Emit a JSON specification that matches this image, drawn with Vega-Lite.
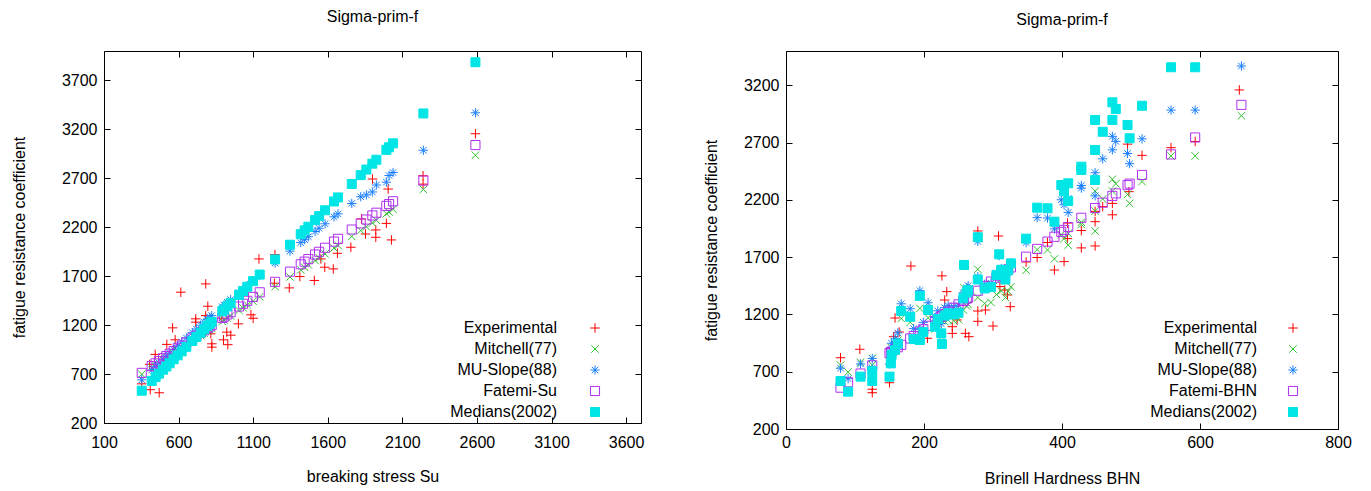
{
"$schema": "https://vega.github.io/schema/vega-lite/v6.json",
"background": "white",
"padding": {"left": 10, "top": 8, "right": 5, "bottom": 5},
"spacing": 57,
"datasets": {
"su": [
{"series":"Experimental","x":353,"y":600},{"series":"Experimental","x":410,"y":540},{"series":"Experimental","x":470,"y":509},{"series":"Experimental","x":406,"y":799},{"series":"Experimental","x":443,"y":901},{"series":"Experimental","x":521,"y":1003},{"series":"Experimental","x":577,"y":1050},{"series":"Experimental","x":560,"y":1172},{"series":"Experimental","x":615,"y":1536},{"series":"Experimental","x":782,"y":1621},{"series":"Experimental","x":796,"y":1393},{"series":"Experimental","x":715,"y":1264},{"series":"Experimental","x":715,"y":1230},{"series":"Experimental","x":782,"y":1297},{"series":"Experimental","x":816,"y":1111},{"series":"Experimental","x":823,"y":1009},{"series":"Experimental","x":823,"y":975},{"series":"Experimental","x":890,"y":1271},{"series":"Experimental","x":901,"y":1050},{"series":"Experimental","x":930,"y":1000},{"series":"Experimental","x":923,"y":1128},{"series":"Experimental","x":950,"y":1097},{"series":"Experimental","x":1001,"y":1213},{"series":"Experimental","x":1085,"y":1305},{"series":"Experimental","x":1100,"y":1270},{"series":"Experimental","x":1139,"y":1876},{"series":"Experimental","x":1246,"y":1921},{"series":"Experimental","x":1242,"y":1628},{"series":"Experimental","x":1342,"y":1580},{"series":"Experimental","x":1413,"y":1696},{"series":"Experimental","x":1510,"y":1656},{"series":"Experimental","x":1554,"y":1876},{"series":"Experimental","x":1580,"y":1791},{"series":"Experimental","x":1637,"y":1774},{"series":"Experimental","x":1665,"y":1934},{"series":"Experimental","x":1755,"y":1995},{"series":"Experimental","x":1826,"y":2284},{"series":"Experimental","x":1853,"y":2131},{"series":"Experimental","x":1922,"y":2172},{"series":"Experimental","x":1922,"y":2097},{"series":"Experimental","x":1900,"y":2692},{"series":"Experimental","x":1993,"y":2239},{"series":"Experimental","x":2005,"y":2590},{"series":"Experimental","x":2027,"y":2070},{"series":"Experimental","x":2239,"y":2726},{"series":"Experimental","x":2239,"y":2640},{"series":"Experimental","x":2590,"y":3155},
{"series":"Mitchell(77)","x":353,"y":698},{"series":"Mitchell(77)","x":420,"y":765},{"series":"Mitchell(77)","x":446,"y":791},{"series":"Mitchell(77)","x":469,"y":814},{"series":"Mitchell(77)","x":496,"y":841},{"series":"Mitchell(77)","x":518,"y":863},{"series":"Mitchell(77)","x":540,"y":885},{"series":"Mitchell(77)","x":567,"y":912},{"series":"Mitchell(77)","x":594,"y":939},{"series":"Mitchell(77)","x":621,"y":966},{"series":"Mitchell(77)","x":652,"y":997},{"series":"Mitchell(77)","x":692,"y":1037},{"series":"Mitchell(77)","x":719,"y":1064},{"series":"Mitchell(77)","x":748,"y":1093},{"series":"Mitchell(77)","x":771,"y":1116},{"series":"Mitchell(77)","x":793,"y":1138},{"series":"Mitchell(77)","x":809,"y":1154},{"series":"Mitchell(77)","x":822,"y":1167},{"series":"Mitchell(77)","x":893,"y":1238},{"series":"Mitchell(77)","x":905,"y":1250},{"series":"Mitchell(77)","x":927,"y":1272},{"series":"Mitchell(77)","x":949,"y":1294},{"series":"Mitchell(77)","x":1005,"y":1350},{"series":"Mitchell(77)","x":1032,"y":1377},{"series":"Mitchell(77)","x":1061,"y":1406},{"series":"Mitchell(77)","x":1099,"y":1444},{"series":"Mitchell(77)","x":1144,"y":1489},{"series":"Mitchell(77)","x":1247,"y":1592},{"series":"Mitchell(77)","x":1347,"y":1692},{"series":"Mitchell(77)","x":1419,"y":1764},{"series":"Mitchell(77)","x":1445,"y":1790},{"series":"Mitchell(77)","x":1470,"y":1815},{"series":"Mitchell(77)","x":1515,"y":1860},{"series":"Mitchell(77)","x":1542,"y":1887},{"series":"Mitchell(77)","x":1582,"y":1927},{"series":"Mitchell(77)","x":1642,"y":1987},{"series":"Mitchell(77)","x":1669,"y":2014},{"series":"Mitchell(77)","x":1761,"y":2106},{"series":"Mitchell(77)","x":1821,"y":2166},{"series":"Mitchell(77)","x":1859,"y":2204},{"series":"Mitchell(77)","x":1899,"y":2244},{"series":"Mitchell(77)","x":1926,"y":2271},{"series":"Mitchell(77)","x":1993,"y":2338},{"series":"Mitchell(77)","x":2011,"y":2356},{"series":"Mitchell(77)","x":2038,"y":2383},{"series":"Mitchell(77)","x":2241,"y":2586},{"series":"Mitchell(77)","x":2590,"y":2935},
{"series":"MU-Slope(88)","x":353,"y":641},{"series":"MU-Slope(88)","x":420,"y":741},{"series":"MU-Slope(88)","x":446,"y":779},{"series":"MU-Slope(88)","x":469,"y":813},{"series":"MU-Slope(88)","x":496,"y":852},{"series":"MU-Slope(88)","x":518,"y":883},{"series":"MU-Slope(88)","x":540,"y":914},{"series":"MU-Slope(88)","x":567,"y":952},{"series":"MU-Slope(88)","x":594,"y":989},{"series":"MU-Slope(88)","x":621,"y":1027},{"series":"MU-Slope(88)","x":652,"y":1069},{"series":"MU-Slope(88)","x":692,"y":1123},{"series":"MU-Slope(88)","x":719,"y":1160},{"series":"MU-Slope(88)","x":748,"y":1199},{"series":"MU-Slope(88)","x":771,"y":1230},{"series":"MU-Slope(88)","x":793,"y":1259},{"series":"MU-Slope(88)","x":809,"y":1279},{"series":"MU-Slope(88)","x":822,"y":1297},{"series":"MU-Slope(88)","x":893,"y":1388},{"series":"MU-Slope(88)","x":905,"y":1404},{"series":"MU-Slope(88)","x":927,"y":1432},{"series":"MU-Slope(88)","x":949,"y":1461},{"series":"MU-Slope(88)","x":1005,"y":1533},{"series":"MU-Slope(88)","x":1032,"y":1566},{"series":"MU-Slope(88)","x":1061,"y":1603},{"series":"MU-Slope(88)","x":1099,"y":1650},{"series":"MU-Slope(88)","x":1144,"y":1706},{"series":"MU-Slope(88)","x":1247,"y":1834},{"series":"MU-Slope(88)","x":1347,"y":1956},{"series":"MU-Slope(88)","x":1419,"y":2043},{"series":"MU-Slope(88)","x":1445,"y":2073},{"series":"MU-Slope(88)","x":1470,"y":2103},{"series":"MU-Slope(88)","x":1515,"y":2156},{"series":"MU-Slope(88)","x":1542,"y":2189},{"series":"MU-Slope(88)","x":1582,"y":2235},{"series":"MU-Slope(88)","x":1642,"y":2306},{"series":"MU-Slope(88)","x":1669,"y":2337},{"series":"MU-Slope(88)","x":1761,"y":2443},{"series":"MU-Slope(88)","x":1821,"y":2511},{"series":"MU-Slope(88)","x":1859,"y":2530},{"series":"MU-Slope(88)","x":1899,"y":2560},{"series":"MU-Slope(88)","x":1926,"y":2631},{"series":"MU-Slope(88)","x":1993,"y":2660},{"series":"MU-Slope(88)","x":2011,"y":2728},{"series":"MU-Slope(88)","x":2038,"y":2759},{"series":"MU-Slope(88)","x":2241,"y":2986},{"series":"MU-Slope(88)","x":2590,"y":3369},
{"series":"Fatemi-Su","x":353,"y":712},{"series":"Fatemi-Su","x":420,"y":782},{"series":"Fatemi-Su","x":446,"y":809},{"series":"Fatemi-Su","x":469,"y":833},{"series":"Fatemi-Su","x":496,"y":861},{"series":"Fatemi-Su","x":518,"y":884},{"series":"Fatemi-Su","x":540,"y":907},{"series":"Fatemi-Su","x":567,"y":935},{"series":"Fatemi-Su","x":594,"y":963},{"series":"Fatemi-Su","x":621,"y":991},{"series":"Fatemi-Su","x":652,"y":1023},{"series":"Fatemi-Su","x":692,"y":1065},{"series":"Fatemi-Su","x":719,"y":1093},{"series":"Fatemi-Su","x":748,"y":1123},{"series":"Fatemi-Su","x":771,"y":1147},{"series":"Fatemi-Su","x":793,"y":1170},{"series":"Fatemi-Su","x":809,"y":1186},{"series":"Fatemi-Su","x":822,"y":1200},{"series":"Fatemi-Su","x":893,"y":1274},{"series":"Fatemi-Su","x":905,"y":1286},{"series":"Fatemi-Su","x":927,"y":1309},{"series":"Fatemi-Su","x":949,"y":1332},{"series":"Fatemi-Su","x":1005,"y":1390},{"series":"Fatemi-Su","x":1032,"y":1418},{"series":"Fatemi-Su","x":1061,"y":1448},{"series":"Fatemi-Su","x":1099,"y":1488},{"series":"Fatemi-Su","x":1144,"y":1535},{"series":"Fatemi-Su","x":1247,"y":1642},{"series":"Fatemi-Su","x":1347,"y":1746},{"series":"Fatemi-Su","x":1419,"y":1821},{"series":"Fatemi-Su","x":1445,"y":1848},{"series":"Fatemi-Su","x":1470,"y":1874},{"series":"Fatemi-Su","x":1515,"y":1921},{"series":"Fatemi-Su","x":1542,"y":1949},{"series":"Fatemi-Su","x":1582,"y":1990},{"series":"Fatemi-Su","x":1642,"y":2053},{"series":"Fatemi-Su","x":1669,"y":2081},{"series":"Fatemi-Su","x":1761,"y":2176},{"series":"Fatemi-Su","x":1821,"y":2239},{"series":"Fatemi-Su","x":1859,"y":2278},{"series":"Fatemi-Su","x":1899,"y":2320},{"series":"Fatemi-Su","x":1926,"y":2348},{"series":"Fatemi-Su","x":1993,"y":2418},{"series":"Fatemi-Su","x":2011,"y":2436},{"series":"Fatemi-Su","x":2038,"y":2465},{"series":"Fatemi-Su","x":2241,"y":2676},{"series":"Fatemi-Su","x":2590,"y":3039},
{"series":"Medians(2002)","x":353,"y":530},{"series":"Medians(2002)","x":420,"y":630},{"series":"Medians(2002)","x":446,"y":669},{"series":"Medians(2002)","x":469,"y":704},{"series":"Medians(2002)","x":496,"y":744},{"series":"Medians(2002)","x":518,"y":777},{"series":"Medians(2002)","x":540,"y":810},{"series":"Medians(2002)","x":567,"y":851},{"series":"Medians(2002)","x":594,"y":891},{"series":"Medians(2002)","x":621,"y":932},{"series":"Medians(2002)","x":652,"y":978},{"series":"Medians(2002)","x":692,"y":1038},{"series":"Medians(2002)","x":719,"y":1079},{"series":"Medians(2002)","x":748,"y":1122},{"series":"Medians(2002)","x":771,"y":1157},{"series":"Medians(2002)","x":793,"y":1190},{"series":"Medians(2002)","x":809,"y":1214},{"series":"Medians(2002)","x":822,"y":1233},{"series":"Medians(2002)","x":893,"y":1340},{"series":"Medians(2002)","x":905,"y":1358},{"series":"Medians(2002)","x":927,"y":1391},{"series":"Medians(2002)","x":949,"y":1424},{"series":"Medians(2002)","x":1005,"y":1508},{"series":"Medians(2002)","x":1032,"y":1548},{"series":"Medians(2002)","x":1061,"y":1592},{"series":"Medians(2002)","x":1099,"y":1649},{"series":"Medians(2002)","x":1144,"y":1716},{"series":"Medians(2002)","x":1247,"y":1871},{"series":"Medians(2002)","x":1347,"y":2021},{"series":"Medians(2002)","x":1419,"y":2129},{"series":"Medians(2002)","x":1445,"y":2168},{"series":"Medians(2002)","x":1470,"y":2205},{"series":"Medians(2002)","x":1515,"y":2273},{"series":"Medians(2002)","x":1542,"y":2313},{"series":"Medians(2002)","x":1582,"y":2373},{"series":"Medians(2002)","x":1642,"y":2463},{"series":"Medians(2002)","x":1669,"y":2504},{"series":"Medians(2002)","x":1761,"y":2642},{"series":"Medians(2002)","x":1821,"y":2732},{"series":"Medians(2002)","x":1859,"y":2789},{"series":"Medians(2002)","x":1899,"y":2849},{"series":"Medians(2002)","x":1926,"y":2889},{"series":"Medians(2002)","x":1993,"y":2990},{"series":"Medians(2002)","x":2011,"y":3017},{"series":"Medians(2002)","x":2038,"y":3057},{"series":"Medians(2002)","x":2241,"y":3362},{"series":"Medians(2002)","x":2590,"y":3885}
],
"bhn": [
{"series":"Experimental","x":79,"y":822},{"series":"Experimental","x":107,"y":896},{"series":"Experimental","x":125,"y":547},{"series":"Experimental","x":125,"y":517},{"series":"Experimental","x":150,"y":604},{"series":"Experimental","x":156,"y":1006},{"series":"Experimental","x":158,"y":1169},{"series":"Experimental","x":164,"y":1047},{"series":"Experimental","x":181,"y":1623},{"series":"Experimental","x":205,"y":992},{"series":"Experimental","x":226,"y":1537},{"series":"Experimental","x":233,"y":1399},{"series":"Experimental","x":230,"y":1326},{"series":"Experimental","x":241,"y":1093},{"series":"Experimental","x":241,"y":1035},{"series":"Experimental","x":248,"y":1152},{"series":"Experimental","x":260,"y":1035},{"series":"Experimental","x":265,"y":1006},{"series":"Experimental","x":278,"y":1929},{"series":"Experimental","x":278,"y":1230},{"series":"Experimental","x":278,"y":1140},{"series":"Experimental","x":289,"y":1239},{"series":"Experimental","x":300,"y":1099},{"series":"Experimental","x":308,"y":1885},{"series":"Experimental","x":310,"y":1443},{"series":"Experimental","x":317,"y":1413},{"series":"Experimental","x":321,"y":1370},{"series":"Experimental","x":325,"y":1268},{"series":"Experimental","x":348,"y":1658},{"series":"Experimental","x":364,"y":1697},{"series":"Experimental","x":379,"y":1828},{"series":"Experimental","x":389,"y":1588},{"series":"Experimental","x":403,"y":1661},{"series":"Experimental","x":408,"y":1998},{"series":"Experimental","x":408,"y":1862},{"series":"Experimental","x":428,"y":1933},{"series":"Experimental","x":428,"y":1781},{"series":"Experimental","x":448,"y":2010},{"series":"Experimental","x":448,"y":2100},{"series":"Experimental","x":448,"y":1798},{"series":"Experimental","x":459,"y":2141},{"series":"Experimental","x":473,"y":2170},{"series":"Experimental","x":473,"y":2070},{"series":"Experimental","x":497,"y":2272},{"series":"Experimental","x":495,"y":2687},{"series":"Experimental","x":516,"y":2589},{"series":"Experimental","x":558,"y":2656},{"series":"Experimental","x":593,"y":2710},{"series":"Experimental","x":657,"y":3160},
{"series":"Mitchell(77)","x":79,"y":758},{"series":"Mitchell(77)","x":90,"y":696},{"series":"Mitchell(77)","x":108,"y":783},{"series":"Mitchell(77)","x":125,"y":816},{"series":"Mitchell(77)","x":125,"y":758},{"series":"Mitchell(77)","x":150,"y":783},{"series":"Mitchell(77)","x":152,"y":860},{"series":"Mitchell(77)","x":153,"y":909},{"series":"Mitchell(77)","x":158,"y":938},{"series":"Mitchell(77)","x":162,"y":975},{"series":"Mitchell(77)","x":167,"y":1165},{"series":"Mitchell(77)","x":180,"y":1132},{"series":"Mitchell(77)","x":185,"y":1002},{"series":"Mitchell(77)","x":194,"y":996},{"series":"Mitchell(77)","x":194,"y":1253},{"series":"Mitchell(77)","x":199,"y":1043},{"series":"Mitchell(77)","x":206,"y":1171},{"series":"Mitchell(77)","x":216,"y":1074},{"series":"Mitchell(77)","x":220,"y":1118},{"series":"Mitchell(77)","x":225,"y":1035},{"series":"Mitchell(77)","x":226,"y":973},{"series":"Mitchell(77)","x":230,"y":1138},{"series":"Mitchell(77)","x":235,"y":1152},{"series":"Mitchell(77)","x":243,"y":1145},{"series":"Mitchell(77)","x":250,"y":1155},{"series":"Mitchell(77)","x":257,"y":1239},{"series":"Mitchell(77)","x":258,"y":1433},{"series":"Mitchell(77)","x":262,"y":1272},{"series":"Mitchell(77)","x":264,"y":1287},{"series":"Mitchell(77)","x":278,"y":1594},{"series":"Mitchell(77)","x":278,"y":1348},{"series":"Mitchell(77)","x":288,"y":1296},{"series":"Mitchell(77)","x":297,"y":1305},{"series":"Mitchell(77)","x":305,"y":1374},{"series":"Mitchell(77)","x":309,"y":1495},{"series":"Mitchell(77)","x":312,"y":1405},{"series":"Mitchell(77)","x":318,"y":1348},{"series":"Mitchell(77)","x":322,"y":1402},{"series":"Mitchell(77)","x":326,"y":1442},{"series":"Mitchell(77)","x":348,"y":1586},{"series":"Mitchell(77)","x":364,"y":1766},{"series":"Mitchell(77)","x":379,"y":1763},{"series":"Mitchell(77)","x":389,"y":1685},{"series":"Mitchell(77)","x":399,"y":1898},{"series":"Mitchell(77)","x":403,"y":1862},{"series":"Mitchell(77)","x":409,"y":1908},{"series":"Mitchell(77)","x":409,"y":1805},{"series":"Mitchell(77)","x":428,"y":2005},{"series":"Mitchell(77)","x":428,"y":1986},{"series":"Mitchell(77)","x":448,"y":2102},{"series":"Mitchell(77)","x":448,"y":1928},{"series":"Mitchell(77)","x":448,"y":2277},{"series":"Mitchell(77)","x":459,"y":2208},{"series":"Mitchell(77)","x":473,"y":2380},{"series":"Mitchell(77)","x":478,"y":2341},{"series":"Mitchell(77)","x":473,"y":2277},{"series":"Mitchell(77)","x":495,"y":2248},{"series":"Mitchell(77)","x":498,"y":2170},{"series":"Mitchell(77)","x":516,"y":2360},{"series":"Mitchell(77)","x":558,"y":2584},{"series":"Mitchell(77)","x":593,"y":2584},{"series":"Mitchell(77)","x":660,"y":2935},
{"series":"MU-Slope(88)","x":79,"y":731},{"series":"MU-Slope(88)","x":90,"y":639},{"series":"MU-Slope(88)","x":108,"y":768},{"series":"MU-Slope(88)","x":125,"y":816},{"series":"MU-Slope(88)","x":125,"y":731},{"series":"MU-Slope(88)","x":150,"y":768},{"series":"MU-Slope(88)","x":152,"y":879},{"series":"MU-Slope(88)","x":153,"y":948},{"series":"MU-Slope(88)","x":158,"y":988},{"series":"MU-Slope(88)","x":162,"y":1039},{"series":"MU-Slope(88)","x":167,"y":1293},{"series":"MU-Slope(88)","x":180,"y":1250},{"series":"MU-Slope(88)","x":185,"y":1076},{"series":"MU-Slope(88)","x":194,"y":1068},{"series":"MU-Slope(88)","x":194,"y":1408},{"series":"MU-Slope(88)","x":199,"y":1131},{"series":"MU-Slope(88)","x":206,"y":1302},{"series":"MU-Slope(88)","x":216,"y":1173},{"series":"MU-Slope(88)","x":220,"y":1232},{"series":"MU-Slope(88)","x":225,"y":1120},{"series":"MU-Slope(88)","x":226,"y":1036},{"series":"MU-Slope(88)","x":230,"y":1259},{"series":"MU-Slope(88)","x":235,"y":1277},{"series":"MU-Slope(88)","x":243,"y":1268},{"series":"MU-Slope(88)","x":250,"y":1280},{"series":"MU-Slope(88)","x":257,"y":1390},{"series":"MU-Slope(88)","x":258,"y":1636},{"series":"MU-Slope(88)","x":262,"y":1432},{"series":"MU-Slope(88)","x":264,"y":1451},{"series":"MU-Slope(88)","x":278,"y":1837},{"series":"MU-Slope(88)","x":278,"y":1530},{"series":"MU-Slope(88)","x":288,"y":1464},{"series":"MU-Slope(88)","x":297,"y":1474},{"series":"MU-Slope(88)","x":305,"y":1562},{"series":"MU-Slope(88)","x":309,"y":1713},{"series":"MU-Slope(88)","x":312,"y":1601},{"series":"MU-Slope(88)","x":318,"y":1530},{"series":"MU-Slope(88)","x":322,"y":1597},{"series":"MU-Slope(88)","x":326,"y":1648},{"series":"MU-Slope(88)","x":348,"y":1827},{"series":"MU-Slope(88)","x":364,"y":2045},{"series":"MU-Slope(88)","x":379,"y":2042},{"series":"MU-Slope(88)","x":389,"y":1947},{"series":"MU-Slope(88)","x":399,"y":2201},{"series":"MU-Slope(88)","x":403,"y":2158},{"series":"MU-Slope(88)","x":409,"y":2213},{"series":"MU-Slope(88)","x":409,"y":2091},{"series":"MU-Slope(88)","x":428,"y":2326},{"series":"MU-Slope(88)","x":428,"y":2303},{"series":"MU-Slope(88)","x":448,"y":2437},{"series":"MU-Slope(88)","x":448,"y":2236},{"series":"MU-Slope(88)","x":448,"y":2637},{"series":"MU-Slope(88)","x":459,"y":2559},{"series":"MU-Slope(88)","x":473,"y":2755},{"series":"MU-Slope(88)","x":478,"y":2711},{"series":"MU-Slope(88)","x":473,"y":2637},{"series":"MU-Slope(88)","x":495,"y":2605},{"series":"MU-Slope(88)","x":498,"y":2516},{"series":"MU-Slope(88)","x":516,"y":2733},{"series":"MU-Slope(88)","x":558,"y":2984},{"series":"MU-Slope(88)","x":593,"y":2984},{"series":"MU-Slope(88)","x":660,"y":3369},
{"series":"Fatemi-BHN","x":79,"y":561},{"series":"Fatemi-BHN","x":90,"y":608},{"series":"Fatemi-BHN","x":108,"y":684},{"series":"Fatemi-BHN","x":125,"y":756},{"series":"Fatemi-BHN","x":150,"y":863},{"series":"Fatemi-BHN","x":152,"y":871},{"series":"Fatemi-BHN","x":153,"y":875},{"series":"Fatemi-BHN","x":158,"y":897},{"series":"Fatemi-BHN","x":162,"y":914},{"series":"Fatemi-BHN","x":167,"y":935},{"series":"Fatemi-BHN","x":180,"y":990},{"series":"Fatemi-BHN","x":185,"y":1011},{"series":"Fatemi-BHN","x":194,"y":1050},{"series":"Fatemi-BHN","x":199,"y":1071},{"series":"Fatemi-BHN","x":206,"y":1101},{"series":"Fatemi-BHN","x":216,"y":1143},{"series":"Fatemi-BHN","x":220,"y":1160},{"series":"Fatemi-BHN","x":225,"y":1181},{"series":"Fatemi-BHN","x":226,"y":1186},{"series":"Fatemi-BHN","x":230,"y":1203},{"series":"Fatemi-BHN","x":235,"y":1224},{"series":"Fatemi-BHN","x":243,"y":1258},{"series":"Fatemi-BHN","x":250,"y":1288},{"series":"Fatemi-BHN","x":257,"y":1317},{"series":"Fatemi-BHN","x":258,"y":1322},{"series":"Fatemi-BHN","x":262,"y":1339},{"series":"Fatemi-BHN","x":264,"y":1347},{"series":"Fatemi-BHN","x":278,"y":1407},{"series":"Fatemi-BHN","x":288,"y":1449},{"series":"Fatemi-BHN","x":297,"y":1487},{"series":"Fatemi-BHN","x":305,"y":1521},{"series":"Fatemi-BHN","x":309,"y":1538},{"series":"Fatemi-BHN","x":312,"y":1551},{"series":"Fatemi-BHN","x":318,"y":1577},{"series":"Fatemi-BHN","x":322,"y":1594},{"series":"Fatemi-BHN","x":326,"y":1611},{"series":"Fatemi-BHN","x":348,"y":1704},{"series":"Fatemi-BHN","x":364,"y":1772},{"series":"Fatemi-BHN","x":379,"y":1836},{"series":"Fatemi-BHN","x":389,"y":1878},{"series":"Fatemi-BHN","x":399,"y":1921},{"series":"Fatemi-BHN","x":403,"y":1938},{"series":"Fatemi-BHN","x":409,"y":1963},{"series":"Fatemi-BHN","x":428,"y":2044},{"series":"Fatemi-BHN","x":448,"y":2129},{"series":"Fatemi-BHN","x":459,"y":2176},{"series":"Fatemi-BHN","x":473,"y":2235},{"series":"Fatemi-BHN","x":478,"y":2257},{"series":"Fatemi-BHN","x":495,"y":2329},{"series":"Fatemi-BHN","x":498,"y":2342},{"series":"Fatemi-BHN","x":516,"y":2418},{"series":"Fatemi-BHN","x":558,"y":2597},{"series":"Fatemi-BHN","x":593,"y":2745},{"series":"Fatemi-BHN","x":660,"y":3030},
{"series":"Medians(2002)","x":79,"y":619},{"series":"Medians(2002)","x":90,"y":526},{"series":"Medians(2002)","x":108,"y":657},{"series":"Medians(2002)","x":125,"y":706},{"series":"Medians(2002)","x":125,"y":619},{"series":"Medians(2002)","x":150,"y":657},{"series":"Medians(2002)","x":152,"y":773},{"series":"Medians(2002)","x":153,"y":846},{"series":"Medians(2002)","x":158,"y":890},{"series":"Medians(2002)","x":162,"y":945},{"series":"Medians(2002)","x":167,"y":1230},{"series":"Medians(2002)","x":180,"y":1180},{"series":"Medians(2002)","x":185,"y":985},{"series":"Medians(2002)","x":194,"y":977},{"series":"Medians(2002)","x":194,"y":1362},{"series":"Medians(2002)","x":199,"y":1047},{"series":"Medians(2002)","x":206,"y":1239},{"series":"Medians(2002)","x":216,"y":1093},{"series":"Medians(2002)","x":220,"y":1160},{"series":"Medians(2002)","x":225,"y":1035},{"series":"Medians(2002)","x":226,"y":942},{"series":"Medians(2002)","x":230,"y":1190},{"series":"Medians(2002)","x":235,"y":1210},{"series":"Medians(2002)","x":243,"y":1200},{"series":"Medians(2002)","x":250,"y":1215},{"series":"Medians(2002)","x":257,"y":1341},{"series":"Medians(2002)","x":258,"y":1632},{"series":"Medians(2002)","x":262,"y":1390},{"series":"Medians(2002)","x":264,"y":1413},{"series":"Medians(2002)","x":278,"y":1874},{"series":"Medians(2002)","x":278,"y":1505},{"series":"Medians(2002)","x":288,"y":1427},{"series":"Medians(2002)","x":297,"y":1440},{"series":"Medians(2002)","x":305,"y":1544},{"series":"Medians(2002)","x":309,"y":1725},{"series":"Medians(2002)","x":312,"y":1590},{"series":"Medians(2002)","x":318,"y":1505},{"series":"Medians(2002)","x":322,"y":1585},{"series":"Medians(2002)","x":326,"y":1646},{"series":"Medians(2002)","x":348,"y":1862},{"series":"Medians(2002)","x":364,"y":2132},{"series":"Medians(2002)","x":379,"y":2127},{"series":"Medians(2002)","x":389,"y":2010},{"series":"Medians(2002)","x":399,"y":2330},{"series":"Medians(2002)","x":403,"y":2275},{"series":"Medians(2002)","x":409,"y":2345},{"series":"Medians(2002)","x":409,"y":2190},{"series":"Medians(2002)","x":428,"y":2490},{"series":"Medians(2002)","x":428,"y":2461},{"series":"Medians(2002)","x":448,"y":2636},{"series":"Medians(2002)","x":448,"y":2374},{"series":"Medians(2002)","x":448,"y":2898},{"series":"Medians(2002)","x":459,"y":2795},{"series":"Medians(2002)","x":473,"y":3052},{"series":"Medians(2002)","x":478,"y":2994},{"series":"Medians(2002)","x":473,"y":2898},{"series":"Medians(2002)","x":495,"y":2854},{"series":"Medians(2002)","x":498,"y":2738},{"series":"Medians(2002)","x":516,"y":3022},{"series":"Medians(2002)","x":558,"y":3358},{"series":"Medians(2002)","x":593,"y":3358}
]
},
"hconcat": [
{
"width": 537, "height": 372,
"title": {"text": "Sigma-prim-f", "offset": 26},
"data": {"name": "su"},
"encoding": {
"stroke": {"field": "series", "type": "nominal", "scale": {"domain": ["Experimental","Mitchell(77)","MU-Slope(88)","Fatemi-Su","Medians(2002)"], "range": ["#ff0000","#33c033","#1a80ff","#b030f0","#00e5e5"]}, "legend": {"orient": "none", "legendX": 483, "legendY": 269, "title": null, "labelAlign": "right", "labelOffset": -46, "padding": 0, "rowPadding": 5}},
"fill": {"field": "series", "type": "nominal", "scale": {"domain": ["Experimental","Mitchell(77)","MU-Slope(88)","Fatemi-Su","Medians(2002)"], "range": ["rgba(0,0,0,0)","rgba(0,0,0,0)","rgba(0,0,0,0)","rgba(0,0,0,0)","#00e5e5"]}, "legend": {"orient": "none", "legendX": 483, "legendY": 269, "title": null, "labelAlign": "right", "labelOffset": -46, "padding": 0, "rowPadding": 5}},
"shape": {"field": "series", "type": "nominal", "scale": {"domain": ["Experimental","Mitchell(77)","MU-Slope(88)","Fatemi-Su","Medians(2002)"], "range": ["M-1,0L1,0M0,-1L0,1","M-0.8,-0.8L0.8,0.8M-0.8,0.8L0.8,-0.8","M-1,0L1,0M0,-1L0,1M-0.7,-0.7L0.7,0.7M-0.7,0.7L0.7,-0.7","square","square"]}, "legend": {"orient": "none", "legendX": 483, "legendY": 269, "title": null, "labelAlign": "right", "labelOffset": -46, "padding": 0, "rowPadding": 5}},
"size": {"field": "series", "type": "nominal", "scale": {"domain": ["Experimental","Mitchell(77)","MU-Slope(88)","Fatemi-Su","Medians(2002)"], "range": [90,81,81,49,64]}, "legend": {"orient": "none", "legendX": 483, "legendY": 269, "title": null, "labelAlign": "right", "labelOffset": -46, "padding": 0, "rowPadding": 5}}
},
"layer": [
{"transform": [{"filter": "datum.series != 'Medians(2002)'"}],
"mark": {"type": "point", "strokeWidth": 1, "opacity": 1},
"encoding": {
"x": {"field": "x", "type": "quantitative", "scale": {"domain": [100, 3700], "nice": false, "zero": false}, "axis": {"orient": "bottom", "values": [100,600,1100,1600,2100,2600,3100,3600], "format": "d", "title": "breaking stress Su", "labelPadding": 17, "titlePadding": 18}},
"y": {"field": "y", "type": "quantitative", "scale": {"domain": [200, 4000], "nice": false, "zero": false}, "axis": {"orient": "left", "values": [200,700,1200,1700,2200,2700,3200,3700], "format": "d", "title": "fatigue resistance coefficient", "titlePadding": 34}}
}},
{"transform": [{"filter": "datum.series == 'Medians(2002)'"}],
"mark": {"type": "point", "strokeWidth": 1, "opacity": 1},
"encoding": {
"x": {"field": "x", "type": "quantitative", "scale": {"domain": [100, 3700], "nice": false, "zero": false}, "axis": {"orient": "top", "values": [100,600,1100,1600,2100,2600,3100,3600], "labels": false, "title": null}},
"y": {"field": "y", "type": "quantitative", "scale": {"domain": [200, 4000], "nice": false, "zero": false}, "axis": {"orient": "right", "values": [200,700,1200,1700,2200,2700,3200,3700], "labels": false, "title": null}}
}}
],
"resolve": {"axis": {"x": "independent", "y": "independent"}}
},
{
"width": 552, "height": 378,
"title": {"text": "Sigma-prim-f", "offset": 23},
"data": {"name": "bhn"},
"encoding": {
"stroke": {"field": "series", "type": "nominal", "scale": {"domain": ["Experimental","Mitchell(77)","MU-Slope(88)","Fatemi-BHN","Medians(2002)"], "range": ["#ff0000","#33c033","#1a80ff","#b030f0","#00e5e5"]}, "legend": {"orient": "none", "legendX": 499, "legendY": 269, "title": null, "labelAlign": "right", "labelOffset": -44, "padding": 0, "rowPadding": 5}},
"fill": {"field": "series", "type": "nominal", "scale": {"domain": ["Experimental","Mitchell(77)","MU-Slope(88)","Fatemi-BHN","Medians(2002)"], "range": ["rgba(0,0,0,0)","rgba(0,0,0,0)","rgba(0,0,0,0)","rgba(0,0,0,0)","#00e5e5"]}, "legend": {"orient": "none", "legendX": 499, "legendY": 269, "title": null, "labelAlign": "right", "labelOffset": -44, "padding": 0, "rowPadding": 5}},
"shape": {"field": "series", "type": "nominal", "scale": {"domain": ["Experimental","Mitchell(77)","MU-Slope(88)","Fatemi-BHN","Medians(2002)"], "range": ["M-1,0L1,0M0,-1L0,1","M-0.8,-0.8L0.8,0.8M-0.8,0.8L0.8,-0.8","M-1,0L1,0M0,-1L0,1M-0.7,-0.7L0.7,0.7M-0.7,0.7L0.7,-0.7","square","square"]}, "legend": {"orient": "none", "legendX": 499, "legendY": 269, "title": null, "labelAlign": "right", "labelOffset": -44, "padding": 0, "rowPadding": 5}},
"size": {"field": "series", "type": "nominal", "scale": {"domain": ["Experimental","Mitchell(77)","MU-Slope(88)","Fatemi-BHN","Medians(2002)"], "range": [90,81,81,49,64]}, "legend": {"orient": "none", "legendX": 499, "legendY": 269, "title": null, "labelAlign": "right", "labelOffset": -44, "padding": 0, "rowPadding": 5}}
},
"layer": [
{"transform": [{"filter": "datum.series != 'Medians(2002)'"}],
"mark": {"type": "point", "strokeWidth": 1, "opacity": 1},
"encoding": {
"x": {"field": "x", "type": "quantitative", "scale": {"domain": [0, 800], "nice": false, "zero": false}, "axis": {"orient": "bottom", "values": [0,200,400,600,800], "format": "d", "title": "Brinell Hardness BHN", "labelPadding": 11, "titlePadding": 20}},
"y": {"field": "y", "type": "quantitative", "scale": {"domain": [200, 3500], "nice": false, "zero": false}, "axis": {"orient": "left", "values": [200,700,1200,1700,2200,2700,3200], "format": "d", "title": "fatigue resistance coefficient", "titlePadding": 24}}
}},
{"transform": [{"filter": "datum.series == 'Medians(2002)'"}],
"mark": {"type": "point", "strokeWidth": 1, "opacity": 1},
"encoding": {
"x": {"field": "x", "type": "quantitative", "scale": {"domain": [0, 800], "nice": false, "zero": false}, "axis": {"orient": "top", "values": [0,200,400,600,800], "labels": false, "title": null}},
"y": {"field": "y", "type": "quantitative", "scale": {"domain": [200, 3500], "nice": false, "zero": false}, "axis": {"orient": "right", "values": [200,700,1200,1700,2200,2700,3200], "labels": false, "title": null}}
}}
],
"resolve": {"axis": {"x": "independent", "y": "independent"}}
}
],
"resolve": {"scale": {"stroke": "independent", "fill": "independent", "shape": "independent", "size": "independent"}, "legend": {"stroke": "independent", "fill": "independent", "shape": "independent", "size": "independent"}},
"config": {
"font": "Liberation Sans",
"title": {"fontSize": 16, "fontWeight": "normal", "color": "black"},
"axis": {"labelFontSize": 16, "titleFontSize": 16, "titleFontWeight": "normal", "labelColor": "black", "titleColor": "black", "tickColor": "black", "domain": false, "grid": false, "tickSize": -6, "labelPadding": 13, "labelFlush": false, "labelOverlap": false},
"axisX": {"labelPadding": 14, "titlePadding": 20},
"axisY": {"titlePadding": 30},
"legend": {"labelFontSize": 16, "labelColor": "black", "symbolStrokeWidth": 1, "labelLimit": 0},
"view": {"stroke": "black", "strokeWidth": 1}
}
}
